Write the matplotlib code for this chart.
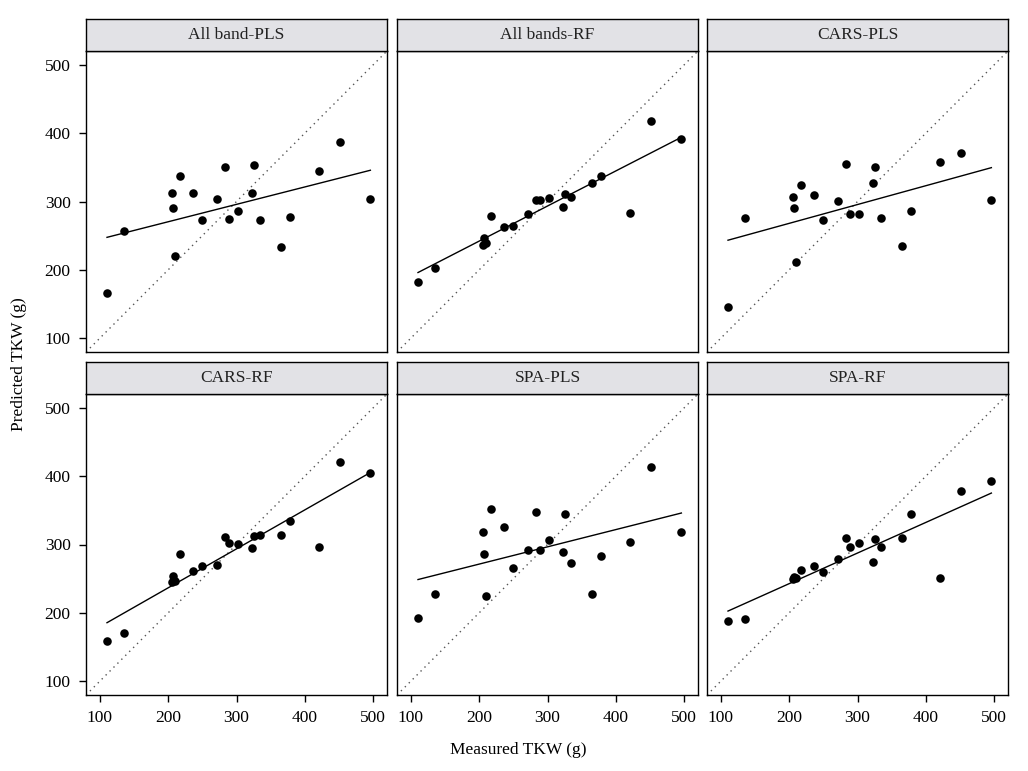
import numpy as np
import matplotlib.pyplot as plt

plt.rcParams['font.family'] = ['Liberation Serif', 'DejaVu Serif']

# measured TKW (g), same samples in every panel
measured = [110.7, 135.6, 205.9, 207.9, 209.4, 217.6, 235.7, 249.3, 271.3, 282.6,
            289.3, 302.0, 322.1, 325.5, 334.7, 365.4, 378.2, 421.1, 451.4, 495.7]

titles = ['All band-PLS', 'All bands-RF', 'CARS-PLS', 'CARS-RF', 'SPA-PLS', 'SPA-RF']

pred_allband_pls = [165.9, 257.6, 312.8, 291.0, 219.8, 337.6, 312.8, 273.6, 303.2, 350.2,
                    275.0, 286.2, 311.9, 353.6, 273.1, 232.8, 277.0, 343.9, 387.0, 303.6]
pred_allband_rf = [182.9, 202.3, 236.7, 246.0, 238.7, 279.0, 263.4, 264.4, 281.3, 302.7,
                   302.7, 305.6, 291.5, 310.4, 307.0, 327.4, 336.6, 282.8, 418.1, 391.4]
pred_cars_pls = [145.6, 275.5, 306.0, 290.5, 211.0, 323.5, 309.0, 273.6, 300.3, 354.5,
                 281.3, 281.8, 326.9, 350.7, 276.5, 234.8, 286.2, 358.4, 370.5, 302.7]
pred_cars_rf = [158.6, 170.8, 244.6, 254.3, 246.5, 286.6, 260.7, 269.0, 270.4, 311.5,
                302.2, 300.2, 294.4, 313.0, 313.4, 313.9, 334.0, 295.9, 420.9, 404.3]
pred_spa_pls = [192.8, 228.0, 317.8, 285.6, 225.0, 352.0, 326.1, 265.6, 291.5, 347.1,
                291.5, 307.1, 288.5, 345.2, 273.4, 227.5, 283.7, 304.2, 412.6, 318.8]
pred_spa_rf = [187.9, 190.4, 249.0, 252.0, 251.0, 262.2, 269.0, 260.2, 278.8, 310.0,
               296.8, 302.7, 273.9, 308.1, 296.8, 310.0, 344.7, 250.9, 378.8, 392.6]

predicted = [pred_allband_pls, pred_allband_rf, pred_cars_pls,
             pred_cars_rf, pred_spa_pls, pred_spa_rf]

ticks = [100, 200, 300, 400, 500]
lim = (80, 520)

W, H = 1028, 771
fig = plt.figure(figsize=(W / 100, H / 100), dpi=100)

col_left = [86, 397, 707]
row_top = [51, 394]
aw, ah = 301, 301
strip_h = 32

x = np.array(measured)
for i in range(6):
    r, c = divmod(i, 3)
    left = col_left[c] / W
    bottom = (H - row_top[r] - ah) / H
    ax = fig.add_axes([left, bottom, aw / W, ah / H])
    y = np.array(predicted[i])

    ax.plot(lim, lim, linestyle=(0, (1, 3)), color='#555555', lw=1.0)
    k, b = np.polyfit(x, y, 1)
    xs = np.array([x.min(), x.max()])
    ax.plot(xs, k * xs + b, color='black', lw=1.0)
    ax.scatter(x, y, s=38, color='black', zorder=3, linewidths=0)

    ax.set_xlim(lim)
    ax.set_ylim(lim)
    ax.set_xticks(ticks)
    ax.set_yticks(ticks)
    ax.tick_params(direction='out', length=5, width=1, labelsize=12.5, pad=6)
    if c != 0:
        ax.tick_params(axis='y', left=False, labelleft=False)
    if r != 1:
        ax.tick_params(axis='x', bottom=False, labelbottom=False)
    for s in ax.spines.values():
        s.set_linewidth(1.0)

    # strip header
    sax = fig.add_axes([left, (H - row_top[r]) / H, aw / W, strip_h / H])
    sax.set_facecolor('#e2e2e6')
    sax.set_xticks([])
    sax.set_yticks([])
    for s in sax.spines.values():
        s.set_linewidth(1.0)
    sax.text(0.5, 0.5, titles[i], ha='center', va='center', fontsize=12.5,
             transform=sax.transAxes, color='#222222')

fig.text(518 / W, 1 - 750 / H, 'Measured TKW (g)', ha='center', va='center', fontsize=12.5)
fig.text(19 / W, 1 - 364 / H, 'Predicted TKW (g)', ha='center', va='center',
         rotation=90, fontsize=12.5)

fig.savefig('out.png', dpi=100)
